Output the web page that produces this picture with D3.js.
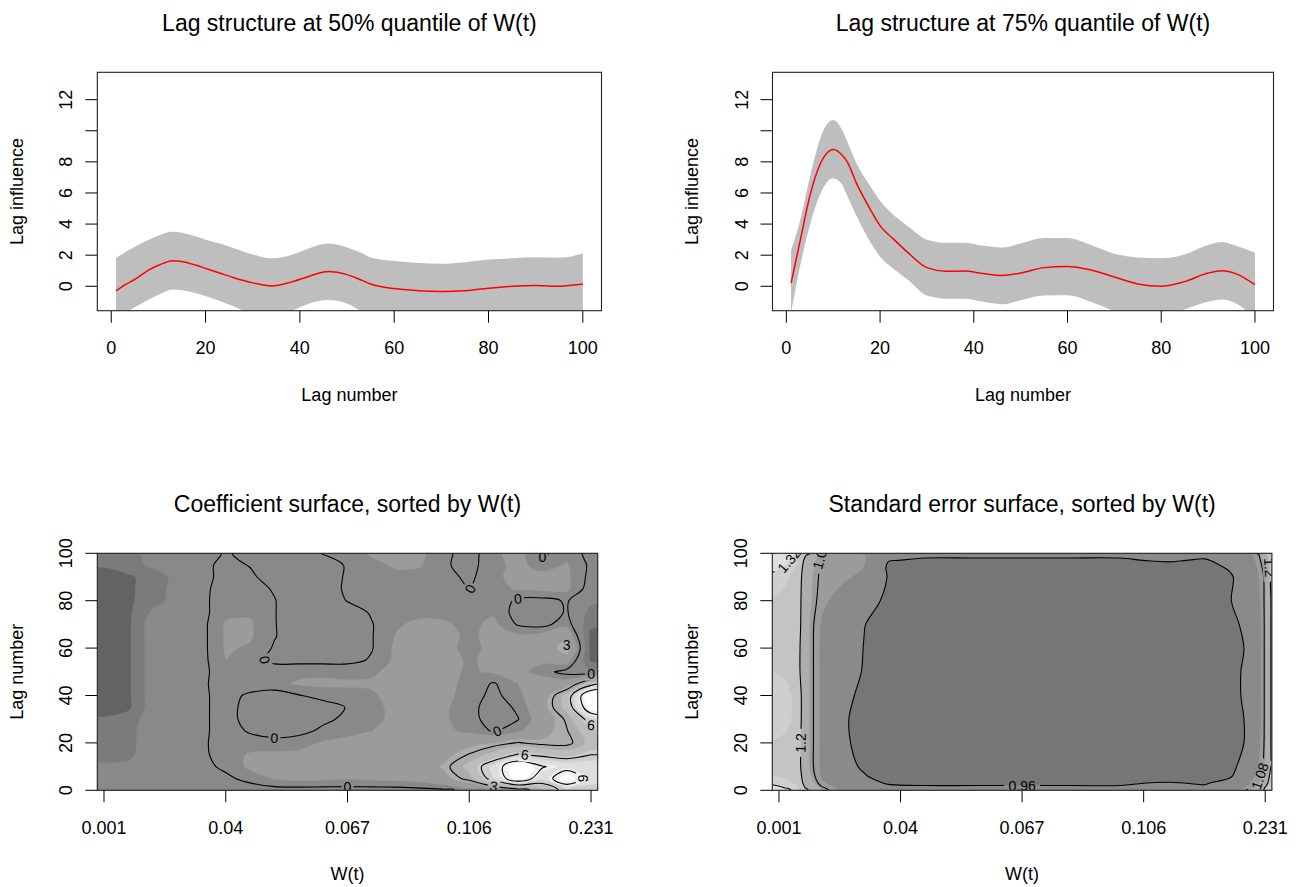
<!DOCTYPE html>
<html><head><meta charset="utf-8">
<script src="https://cdn.jsdelivr.net/npm/d3@7"></script>
<style>
body{margin:0;background:#fff;}
svg{display:block;}
</style></head><body>
<script>
// ---------------- DATA ----------------
const lagTicks = [0, 20, 40, 60, 80, 100];
const infTicks = [0, 2, 4, 6, 8, 10, 12];
const infTickLabels = ["0", "2", "4", "6", "8", "", "12"];

// 50% quantile lag structure
const lags50  = [1, 3, 5, 8, 10, 13, 15, 18, 20, 23, 26, 30, 34, 38, 42, 46, 50, 53, 55, 60, 65, 70, 75, 80, 85, 90, 95, 98, 100];
const est50   = [-0.3, 0.1, 0.45, 1.05, 1.35, 1.65, 1.6, 1.35, 1.15, 0.85, 0.55, 0.22, 0.02, 0.25, 0.65, 0.95, 0.75, 0.4, 0.15, -0.15, -0.28, -0.33, -0.28, -0.12, 0.0, 0.05, 0.0, 0.08, 0.15];
const upper50 = [1.8, 2.2, 2.55, 3.0, 3.25, 3.5, 3.45, 3.2, 3.0, 2.75, 2.45, 2.05, 1.8, 2.0, 2.45, 2.75, 2.5, 2.15, 1.85, 1.62, 1.5, 1.45, 1.55, 1.72, 1.8, 1.86, 1.84, 1.95, 2.12];
const lower50 = [-2.3, -1.75, -1.35, -0.85, -0.55, -0.2, -0.25, -0.45, -0.63, -0.95, -1.3, -1.8, -2.0, -1.6, -1.1, -0.88, -1.1, -1.6, -1.85, -1.95, -2.1, -2.15, -2.15, -2.0, -1.9, -1.9, -1.9, -1.9, -1.9];

// 75% quantile lag structure
const lags75  = [1, 3, 5, 8, 10, 12, 13, 15, 18, 20, 23, 26, 30, 34, 38, 42, 46, 50, 55, 60, 65, 70, 75, 80, 85, 90, 93, 96, 100];
const est75   = [0.2, 3.0, 5.8, 8.3, 8.8, 8.4, 8.0, 6.6, 4.9, 3.9, 3.0, 2.15, 1.2, 0.97, 0.98, 0.82, 0.7, 0.85, 1.2, 1.28, 1.05, 0.6, 0.15, 0.0, 0.3, 0.85, 1.0, 0.8, 0.1];
const upper75 = [2.3, 4.3, 7.0, 10.1, 10.7, 10.0, 9.3, 7.9, 6.4, 5.5, 4.55, 3.85, 3.0, 2.8, 2.8, 2.6, 2.5, 2.75, 3.1, 3.1, 2.65, 2.1, 1.85, 1.8, 2.05, 2.65, 2.85, 2.6, 2.15];
const lower75 = [-1.7, 1.4, 3.9, 6.4, 6.95, 6.5, 5.8, 4.5, 2.8, 1.9, 1.1, 0.4, -0.6, -0.8, -0.8, -1.0, -1.15, -0.9, -0.6, -0.58, -1.0, -1.6, -2.0, -2.2, -1.5, -1.0, -0.85, -1.1, -2.1];

// surfaces: columns are positions on the W(t) quantile axis (0..4 = tick positions), rows are lags (top = 100)
const wTickLabels = ["0.001", "0.04", "0.067", "0.106", "0.231"];
const wTicks = [0, 1, 2, 3, 4];
const surfLagTicks = [0, 20, 40, 60, 80, 100];

const coefCols = [0, 0.2, 0.4, 0.6, 0.8, 1.0, 1.2, 1.4, 1.6, 1.8, 2.0, 2.2, 2.4, 2.6, 2.8, 3.0, 3.2, 3.4, 3.6, 3.8, 4.0];
const coefLags = [100, 95, 90, 85, 80, 75, 70, 65, 60, 55, 50, 45, 40, 35, 30, 25, 20, 15, 10, 5, 0];
const coefGrid = [
 [-1.8,-1.5,-0.9,-0.7,-0.5,0.1,-0.3,-0.6,-0.5,0.05,0.4,0.9,1.0,1.0,0.2,-0.4,0.6,1.2,-0.2,0.5,-0.3],
 [-2.05,-1.6,-1.0,-0.7,-0.3,0.3,-0.05,-0.6,-0.7,-0.5,0.1,0.6,0.9,0.85,0.1,-0.3,0.5,1.1,0.4,0.9,-0.2],
 [-2.8,-2.4,-1.7,-0.9,-0.4,0.4,0.2,-0.5,-0.8,-0.6,0.15,0.5,0.6,0.6,0.3,-0.2,0.6,1.1,1.2,1.0,-0.3],
 [-2.8,-2.4,-1.7,-0.8,-0.3,0.5,0.4,-0.1,-0.8,-0.3,0.1,0.4,0.5,0.5,0.4,-0.02,0.5,0.9,1.0,1.0,-0.5],
 [-2.8,-2.4,-1.6,-0.8,-0.3,0.6,0.6,0.05,-0.7,-0.7,0.05,0.4,0.5,0.5,0.6,0.5,0.7,-0.2,-0.3,0.1,-1.0],
 [-2.8,-2.4,-1.0,-0.7,-0.3,0.6,0.7,0.05,-0.7,-0.8,-0.5,0.1,0.5,0.6,0.6,0.6,0.7,-0.4,-0.6,0.1,-1.5],
 [-2.8,-2.4,-0.6,-0.6,-0.3,0.9,0.9,0.05,-0.6,-0.8,-0.6,-0.05,0.7,1.0,0.9,0.6,1.0,-0.1,-0.3,0.5,-2.0],
 [-2.8,-2.4,-0.6,-0.6,-0.3,0.9,0.9,0.05,-0.5,-0.7,-0.6,-0.05,0.85,1.0,1.1,0.6,1.1,1.0,1.2,2.0,-2.5],
 [-2.8,-2.4,-0.6,-0.6,-0.3,0.9,0.7,-0.1,-0.5,-0.6,-0.5,-0.05,1.0,1.2,1.0,0.6,1.0,1.0,1.1,3.3,-2.6],
 [-2.8,-2.4,-0.6,-0.6,-0.3,0.8,0.3,-0.2,-0.3,-0.3,-0.3,0.1,1.0,1.2,1.1,0.7,1.0,1.1,1.0,1.5,-2.4],
 [-2.8,-2.4,-0.6,-0.5,-0.2,0.4,0.5,0.4,0.6,0.6,0.6,0.7,1.0,1.2,1.0,0.7,0.9,1.1,0.4,-0.4,-1.0],
 [-2.8,-2.4,-0.6,-0.5,-0.2,0.5,0.6,0.6,0.9,1.0,0.9,0.9,1.1,1.2,1.0,0.6,-0.1,0.8,1.5,1.5,5.0],
 [-2.8,-2.4,-0.6,-0.5,-0.2,0.4,-0.2,-0.5,-0.05,0.3,0.6,0.7,1.1,1.2,1.0,0.5,-0.3,0.6,1.5,4.5,12],
 [-2.8,-2.4,-0.6,-0.5,-0.2,0.4,-0.4,-0.7,-0.6,-0.4,0.05,0.6,1.0,1.2,0.9,0.4,-0.6,0.2,1.8,4.5,11],
 [-2.05,-1.7,-0.6,-0.5,-0.2,0.4,-0.4,-0.7,-0.6,-0.2,0.2,0.6,1.0,1.1,0.9,0.4,-0.5,-0.05,1.5,3.2,7],
 [-1.8,-1.5,-0.6,-0.5,-0.2,0.4,-0.1,-0.4,-0.3,0.2,0.6,0.8,1.0,1.1,1.0,0.6,-0.1,0.6,2.0,2.9,5],
 [-1.7,-1.5,-0.6,-0.5,-0.2,0.5,0.4,0.3,0.5,0.9,1.0,1.1,1.1,1.2,1.4,2.0,2.4,3.1,2.6,2.5,4.5],
 [-1.6,-1.4,-0.6,-0.5,-0.2,0.4,0.9,1.0,1.0,1.0,1.0,1.0,1.2,1.4,2.0,3.1,4.5,6.2,5.5,5.0,6],
 [-1.0,-1.0,-0.8,-0.6,-0.3,0.2,1.0,1.0,1.0,1.0,1.0,1.0,1.2,1.6,2.6,4.5,7.5,11.5,9.2,8,8],
 [-0.9,-0.9,-0.8,-0.6,-0.4,-0.2,0.3,0.9,1.1,1.0,0.9,1.0,1.1,1.3,2.0,3.5,7.0,11.0,7.5,11,8],
 [-0.9,-0.9,-0.8,-0.6,-0.5,-0.5,-0.5,-0.4,-0.4,-0.4,-0.4,-0.4,-0.4,-0.3,-0.2,0.3,1.0,2.0,4,7,6]
];
const coefBreaks = [-2.2, -1.2, 0.8, 2.4, 4, 5.5, 7, 8.5, 10];
const coefColors = ["#636363","#7b7b7b","#898989","#9b9b9b","#acacac","#bcbcbc","#cdcdcd","#dedede","#efefef","#ffffff"];
const coefLevels = [0, 3, 6, 9];
const coefLabels = [
 {level:0, t:1.31, lag:47.9}, {level:0, t:1.31, lag:21.4}, {level:0, t:2.02, lag:1.2},
 {level:0, t:3.05, lag:85.3}, {level:0, t:3.47, lag:80.6}, {level:0, t:3.71, lag:98},
 {level:0, t:3.98, lag:48}, {level:0, t:3.24, lag:25.7}, {level:6, t:3.47, lag:15.5},
 {level:3, t:3.38, lag:1.0}, {level:3, t:3.80, lag:60.6}, {level:6, t:3.99, lag:28},
 {level:9, t:3.93, lag:2.5}
];

const seCols = [-0.055, 0.05, 0.15, 0.25, 0.35, 0.5, 0.7, 0.9, 1.2, 1.6, 2.0, 2.4, 2.8, 3.2, 3.5, 3.7, 3.85, 3.95, 4.0, 4.055];
const seLags = [100, 99, 97, 94, 90, 80, 70, 60, 50, 40, 30, 20, 10, 6, 3, 1, 0];
const seGrid = [
 [1.40,1.38,1.33,1.21,1.085,1.07,1.04,0.995,0.985,0.98,0.98,0.98,0.98,0.985,0.985,1.0,1.03,1.09,1.18,1.30],
 [1.38,1.36,1.30,1.16,1.074,1.068,1.055,0.98,0.965,0.965,0.965,0.965,0.965,0.97,0.97,0.99,1.02,1.078,1.15,1.28],
 [1.36,1.34,1.28,1.13,1.072,1.065,1.055,0.962,0.955,0.955,0.955,0.955,0.955,0.965,0.955,0.975,1.01,1.07,1.12,1.26],
 [1.34,1.31,1.26,1.12,1.07,1.065,1.05,0.95,0.94,0.935,0.935,0.935,0.935,0.94,0.94,0.965,1.0,1.06,1.1,1.25],
 [1.30,1.28,1.25,1.11,1.07,1.06,1.04,0.955,0.93,0.925,0.92,0.92,0.925,0.93,0.93,0.95,0.99,1.05,1.09,1.24],
 [1.265,1.255,1.24,1.11,1.06,1.035,0.99,0.945,0.925,0.92,0.915,0.915,0.92,0.925,0.92,0.955,0.99,1.04,1.09,1.22],
 [1.265,1.255,1.24,1.10,1.045,1.02,0.962,0.93,0.92,0.915,0.91,0.91,0.915,0.92,0.92,0.94,0.975,1.03,1.09,1.22],
 [1.265,1.255,1.23,1.10,1.04,1.01,0.958,0.925,0.915,0.91,0.905,0.905,0.91,0.915,0.92,0.935,0.965,1.03,1.09,1.22],
 [1.27,1.26,1.23,1.10,1.04,1.0,0.955,0.92,0.91,0.905,0.90,0.90,0.905,0.91,0.92,0.94,0.97,1.03,1.09,1.22],
 [1.30,1.29,1.25,1.10,1.04,0.99,0.94,0.92,0.91,0.905,0.90,0.90,0.905,0.91,0.92,0.94,0.97,1.03,1.09,1.22],
 [1.30,1.29,1.25,1.10,1.04,0.975,0.935,0.915,0.91,0.905,0.90,0.90,0.905,0.91,0.92,0.935,0.965,1.03,1.09,1.22],
 [1.265,1.255,1.24,1.10,1.04,0.98,0.935,0.915,0.91,0.905,0.90,0.90,0.905,0.91,0.92,0.935,0.965,1.04,1.09,1.22],
 [1.265,1.255,1.24,1.10,1.04,0.99,0.95,0.92,0.915,0.91,0.905,0.905,0.91,0.915,0.925,0.945,0.98,1.05,1.10,1.22],
 [1.27,1.26,1.25,1.11,1.045,1.0,0.965,0.93,0.925,0.92,0.92,0.92,0.92,0.925,0.93,0.95,1.0,1.075,1.12,1.25],
 [1.31,1.29,1.26,1.13,1.06,1.02,0.98,0.955,0.955,0.955,0.955,0.955,0.955,0.965,0.955,0.98,1.03,1.10,1.15,1.28],
 [1.34,1.32,1.28,1.16,1.09,1.04,1.0,0.975,0.965,0.965,0.965,0.965,0.965,0.97,0.97,1.0,1.06,1.12,1.21,1.30],
 [1.36,1.34,1.30,1.19,1.10,1.05,1.02,0.985,0.98,0.98,0.98,0.98,0.98,0.985,0.98,1.02,1.085,1.14,1.22,1.30]
];
const seBreaks = [0.96, 1.05, 1.1, 1.2, 1.27, 1.32];
const seColors = ["#767676","#8a8a8a","#9b9b9b","#adadad","#c4c4c4","#cfcfcf","#e0e0e0"];
const seLevels = [0.96, 1.08, 1.2, 1.32];
const seLabels = [
 {level:1.32, t:0.10, lag:97}, {level:1.08, t:0.40, lag:98.5}, {level:1.2, t:0.17, lag:17.6},
 {level:0.96, t:2.01, lag:1.8}, {level:1.08, t:3.90, lag:8.5}, {level:1.2, t:4.03, lag:90}
];

// ---------------- DRAWING ----------------
const W = 1303, H = 887;
const FONT = '"Liberation Sans", Arial, Helvetica, sans-serif';
const svg = d3.select("body").append("svg").attr("width", W).attr("height", H).style("font-family", FONT);
svg.append("rect").attr("width", W).attr("height", H).attr("fill", "#fff");
const defs = svg.append("defs");

const P = {
  tl: {x0: 97.3, x1: 601.5, y0: 72.3, y1: 310.7, id: "tl"},
  tr: {x0: 772.5, x1: 1273.5, y0: 72.3, y1: 310.7, id: "tr"},
  bl: {x0: 97.3, x1: 597.7, y0: 553.3, y1: 790.3, id: "bl"},
  br: {x0: 772.3, x1: 1271.9, y0: 553.3, y1: 790.3, id: "br"}
};

function frame(p, xs, ys, xt, xtl, yt, ytl, title, xlab, ylab) {
  const g = svg.append("g");
  g.selectAll(null).data(xt).join("line")
    .attr("x1", d => xs(d)).attr("x2", d => xs(d)).attr("y1", p.y1).attr("y2", p.y1 + 12)
    .attr("stroke", "#000").attr("stroke-width", 1);
  g.selectAll(null).data(yt).join("line")
    .attr("y1", d => ys(d)).attr("y2", d => ys(d)).attr("x1", p.x0 - 12).attr("x2", p.x0)
    .attr("stroke", "#000").attr("stroke-width", 1);
  g.selectAll(null).data(xt).join("text")
    .attr("x", d => xs(d)).attr("y", p.y1 + 43.5).attr("text-anchor", "middle")
    .attr("font-size", 18).attr("fill", "#000").text((d, i) => xtl[i]);
  g.selectAll(null).data(yt).join("text")
    .attr("transform", d => `translate(${p.x0 - 25},${ys(d)}) rotate(-90)`)
    .attr("text-anchor", "middle").attr("font-size", 18).attr("fill", "#000").text((d, i) => ytl[i]);
  g.append("rect").attr("x", p.x0).attr("y", p.y0).attr("width", p.x1 - p.x0).attr("height", p.y1 - p.y0)
    .attr("fill", "none").attr("stroke", "#222").attr("stroke-width", 1.1);
  g.append("text").attr("x", (p.x0 + p.x1) / 2).attr("y", p.y0 - 41).attr("text-anchor", "middle")
    .attr("font-size", 23).attr("fill", "#000").text(title);
  g.append("text").attr("x", (p.x0 + p.x1) / 2).attr("y", p.y1 + 90).attr("text-anchor", "middle")
    .attr("font-size", 18).attr("fill", "#000").text(xlab);
  g.append("text").attr("transform", `translate(${p.x0 - 74.5},${(p.y0 + p.y1) / 2}) rotate(-90)`)
    .attr("text-anchor", "middle").attr("font-size", 18).attr("fill", "#000").text(ylab);
}

function clipFor(p) {
  const id = "clip-" + p.id;
  defs.append("clipPath").attr("id", id).append("rect")
    .attr("x", p.x0).attr("y", p.y0).attr("width", p.x1 - p.x0).attr("height", p.y1 - p.y0);
  return `url(#${id})`;
}

function lagPanel(p, lags, est, lo, hi, title) {
  const x = d3.scaleLinear().domain([-2.96, 103.96]).range([p.x0, p.x1]);
  const y = d3.scaleLinear().domain([-1.57, 13.76]).range([p.y1, p.y0]);
  const g = svg.append("g").attr("clip-path", clipFor(p));
  const idx = d3.range(lags.length);
  g.append("path").datum(idx)
    .attr("d", d3.area().x(i => x(lags[i])).y0(i => y(lo[i])).y1(i => y(hi[i])).curve(d3.curveMonotoneX))
    .attr("fill", "#bebebe");
  g.append("path").datum(idx)
    .attr("d", d3.line().x(i => x(lags[i])).y(i => y(est[i])).curve(d3.curveMonotoneX))
    .attr("fill", "none").attr("stroke", "#ff0000").attr("stroke-width", 1.5);
  frame(p, x, y, lagTicks, lagTicks.map(String), infTicks, infTickLabels, title, "Lag number", "Lag influence");
}

function surfacePanel(p, grid, colPos, rowPos, breaks, colors, levels, labels, title) {
  const tq = d3.scaleLinear().domain([-0.055, 4.055]).range([p.x0, p.x1]);
  const yl = d3.scaleLinear().domain([0, 100]).range([p.y1, p.y0]);
  const nx0 = colPos.length, ny0 = rowPos.length, nx = nx0 + 2, ny = ny0 + 2;
  const values = [];
  for (let j = 0; j < ny; j++) {
    const row = grid[Math.min(Math.max(j - 1, 0), ny0 - 1)];
    for (let i = 0; i < nx; i++) values.push(row[Math.min(Math.max(i - 1, 0), nx0 - 1)]);
  }
  const cpos = [colPos[0] - 0.6, ...colPos, colPos[nx0 - 1] + 0.6];
  const rpos = [rowPos[0] + 12, ...rowPos, rowPos[ny0 - 1] - 12];
  const ci = d3.scaleLinear().domain(d3.range(nx)).range(cpos);
  const ri = d3.scaleLinear().domain(d3.range(ny)).range(rpos);
  const proj = pt => [tq(ci(pt[0] - 0.5)), yl(ri(pt[1] - 0.5))];
  const line = d3.line().curve(d3.curveCatmullRomClosed.alpha(0.5));
  const ringPts = ring => {
    let r = ring;
    const a = r[0], b = r[r.length - 1];
    if (r.length > 1 && a[0] === b[0] && a[1] === b[1]) r = r.slice(0, -1);
    return r.map(proj);
  };
  const gen = d3.contours().size([nx, ny]);
  const ringsOf = geom => {
    const out = [];
    geom.coordinates.forEach(poly => poly.forEach(ring => out.push(ringPts(ring))));
    return out;
  };
  const pathOf = rings => rings.map(r => (r.length > 2 ? line(r) : "")).join("");

  const g = svg.append("g").attr("clip-path", clipFor(p));
  g.append("rect").attr("x", p.x0).attr("y", p.y0).attr("width", p.x1 - p.x0).attr("height", p.y1 - p.y0)
    .attr("fill", colors[0]);
  breaks.forEach((b, k) => {
    g.append("path").attr("d", pathOf(ringsOf(gen.contour(values, b)))).attr("fill", colors[k + 1])
      .attr("fill-rule", "evenodd").attr("stroke", colors[k + 1]).attr("stroke-width", 0.4);
  });

  const maskId = "mask-" + p.id;
  const mask = defs.append("mask").attr("id", maskId).attr("maskUnits", "userSpaceOnUse")
    .attr("x", 0).attr("y", 0).attr("width", W).attr("height", H);
  mask.append("rect").attr("width", W).attr("height", H).attr("fill", "#fff");

  const lineG = g.append("g").attr("mask", `url(#${maskId})`);
  const ringMap = new Map();
  levels.forEach(lv => {
    const rings = ringsOf(gen.contour(values, lv));
    ringMap.set(lv, rings);
    lineG.append("path").attr("d", pathOf(rings))
      .attr("fill", "none").attr("stroke", "#000").attr("stroke-width", 1.1);
  });

  const labG = g.append("g");
  labels.forEach(lb => {
    const rings = ringMap.get(lb.level) || [];
    const tx = tq(lb.t), ty = yl(lb.lag);
    let best = null, bd = Infinity;
    rings.forEach(r => {
      const n = r.length;
      for (let k = 0; k < n; k++) {
        const q = r[k];
        if (q[0] < p.x0 + 2 || q[0] > p.x1 - 2 || q[1] < p.y0 + 2 || q[1] > p.y1 - 2) continue;
        const d = (q[0] - tx) ** 2 + (q[1] - ty) ** 2;
        if (d < bd) { bd = d; best = [r[(k - 1 + n) % n], q, r[(k + 1) % n]]; }
      }
    });
    let cx = tx, cy = ty, ang = 0;
    if (best && bd < 22 * 22) {
      cx = best[1][0]; cy = best[1][1];
      ang = Math.atan2(best[2][1] - best[0][1], best[2][0] - best[0][0]) * 180 / Math.PI;
      if (ang > 90) ang -= 180;
      if (ang < -90) ang += 180;
    }
    const t = labG.append("text").attr("transform", `translate(${cx},${cy}) rotate(${ang})`)
      .attr("text-anchor", "middle").attr("dominant-baseline", "central")
      .attr("font-size", 14).attr("fill", "#000").text(String(lb.level));
    const w = String(lb.level).length * 8 + 4;
    mask.append("rect").attr("x", -w / 2).attr("y", -7).attr("width", w).attr("height", 14)
      .attr("transform", `translate(${cx},${cy}) rotate(${ang})`).attr("fill", "#000");
  });

  frame(p, tq, yl, wTicks, wTickLabels, surfLagTicks, surfLagTicks.map(String), title, "W(t)", "Lag number");
}

lagPanel(P.tl, lags50, est50, lower50, upper50, "Lag structure at 50% quantile of W(t)");
lagPanel(P.tr, lags75, est75, lower75, upper75, "Lag structure at 75% quantile of W(t)");
surfacePanel(P.bl, coefGrid, coefCols, coefLags, coefBreaks, coefColors, coefLevels, coefLabels, "Coefficient surface, sorted by W(t)");
surfacePanel(P.br, seGrid, seCols, seLags, seBreaks, seColors, seLevels, seLabels, "Standard error surface, sorted by W(t)");
</script>
</body></html>
